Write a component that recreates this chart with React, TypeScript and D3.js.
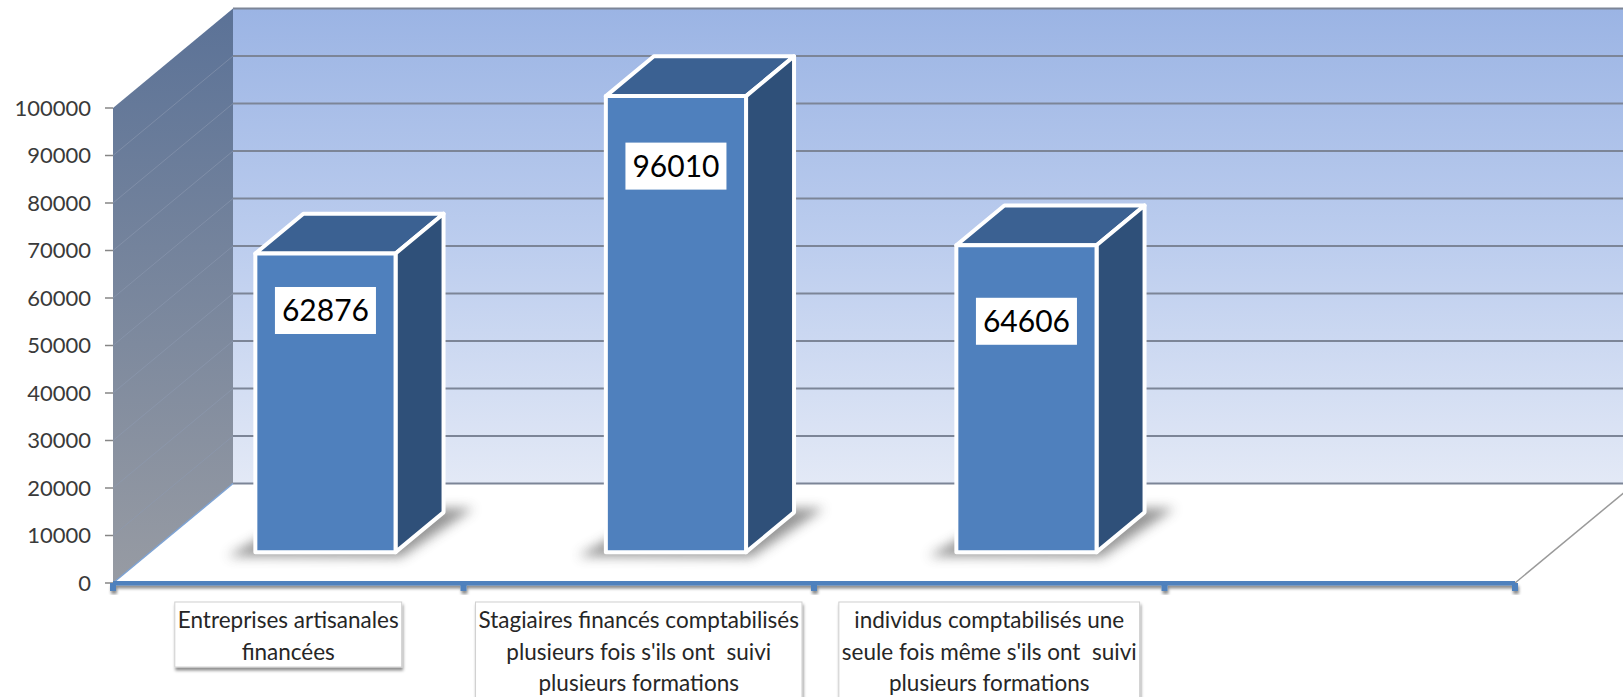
import React, { useEffect, useRef } from "react";
import * as d3 from "d3";

// ---------- data ----------
const categories = [
  "Entreprises artisanales financées",
  "Stagiaires financés comptabilisés plusieurs fois s'ils ont  suivi plusieurs formations",
  "individus comptabilisés une seule fois même s'ils ont  suivi plusieurs formations",
  "",
];
const categoryLines = [
  ["Entreprises artisanales", "financées"],
  ["Stagiaires financés comptabilisés", "plusieurs fois s'ils ont  suivi", "plusieurs formations"],
  ["individus comptabilisés une", "seule fois même s'ils ont  suivi", "plusieurs formations"],
  [],
];
const values = [62876, 96010, 64606];
const yTickValues = [0, 10000, 20000, 30000, 40000, 50000, 60000, 70000, 80000, 90000, 100000];
const yTickLabels = ["0", "10000", "20000", "30000", "40000", "50000", "60000", "70000", "80000", "90000", "100000"];

// ---------- layout ----------
const W = 1623;
const H = 697;
const X0 = 113;
const X1 = 1515;
const Y0 = 583;
const YTOP = 108;
const DX = 120;
const DY = 99.5;
const BAR_D0 = 0.31;
const BAR_D1 = 0.71;
const VALUE_LABEL_OFFSET = [57, 70, 76];
const FONT = "Lato, 'Open Sans', sans-serif";
const CAT_LINE_H = 31.5;

export default function App() {
  const ref = useRef<SVGSVGElement>(null);

  useEffect(() => {
    const svg = d3.select(ref.current);
    svg.selectAll("*").remove();

    const x = d3
      .scaleBand<string>()
      .domain(categories)
      .range([X0, X1])
      .paddingInner(0.6)
      .paddingOuter(0.3);
    const y = d3.scaleLinear().domain([0, 100000]).range([Y0, YTOP]);
    const proj = (px: number, py: number, d: number): [number, number] => [px + DX * d, py - DY * d];

    const defs = svg.append("defs");
    const gBack = defs
      .append("linearGradient")
      .attr("id", "backGrad")
      .attr("x1", 0)
      .attr("y1", 0)
      .attr("x2", 0)
      .attr("y2", 1);
    gBack.append("stop").attr("offset", 0).attr("stop-color", "#9bb4e4");
    gBack.append("stop").attr("offset", 0.5).attr("stop-color", "#bccdee");
    gBack.append("stop").attr("offset", 1).attr("stop-color", "#e3e9f6");
    const gSide = defs
      .append("linearGradient")
      .attr("id", "sideGrad")
      .attr("x1", 0)
      .attr("y1", 0)
      .attr("x2", 0)
      .attr("y2", 1);
    gSide.append("stop").attr("offset", 0).attr("stop-color", "#5b7297");
    gSide.append("stop").attr("offset", 1).attr("stop-color", "#979ba3");
    defs
      .append("filter")
      .attr("id", "blur")
      .attr("x", "-50%")
      .attr("y", "-50%")
      .attr("width", "200%")
      .attr("height", "200%")
      .append("feGaussianBlur")
      .attr("stdDeviation", 6);
    const ds = defs
      .append("filter")
      .attr("id", "dshadow")
      .attr("x", "-20%")
      .attr("y", "-20%")
      .attr("width", "140%")
      .attr("height", "160%");
    ds.append("feDropShadow")
      .attr("dx", 1)
      .attr("dy", 3)
      .attr("stdDeviation", 1.5)
      .attr("flood-color", "#000")
      .attr("flood-opacity", 0.45);

    const line = (pts: [number, number][]) => d3.line()(pts) as string;
    const poly = (pts: [number, number][]) => (d3.line()(pts) as string) + "Z";

    // back wall
    const bTop = proj(X0, y(100000), 1);
    const bBot = proj(X0, y(0), 1);
    svg
      .append("rect")
      .attr("x", bTop[0])
      .attr("y", bTop[1])
      .attr("width", W - bTop[0] + 10)
      .attr("height", bBot[1] - bTop[1])
      .attr("fill", "url(#backGrad)");

    // side wall
    svg
      .append("path")
      .attr("d", poly([[X0, y(100000)], bTop, bBot, [X0, y(0)]]))
      .attr("fill", "url(#sideGrad)");

    // side wall grid
    yTickValues.slice(1, -1).forEach((v) => {
      svg
        .append("path")
        .attr("d", line([[X0, y(v)], proj(X0, y(v), 1)]))
        .attr("stroke", "#8e9bb2")
        .attr("stroke-opacity", 0.55)
        .attr("stroke-width", 1);
    });

    // back wall grid
    yTickValues.forEach((v) => {
      const p = proj(X0, y(v), 1);
      svg
        .append("path")
        .attr("d", line([p, [W + 10, p[1]]]))
        .attr("stroke", "#7c8597")
        .attr("stroke-width", 2);
    });

    // floor edges
    svg
      .append("path")
      .attr("d", line([[X0, Y0], proj(X0, Y0, 1)]))
      .attr("stroke", "#7ea3d4")
      .attr("stroke-width", 1.5);
    svg
      .append("path")
      .attr("d", line([[X1, Y0], proj(X1, Y0, 1)]))
      .attr("stroke", "#9a9a9a")
      .attr("stroke-width", 1.5);

    // y ticks & labels
    yTickValues.forEach((v, i) => {
      svg
        .append("path")
        .attr("d", line([[X0 - 8, y(v)], [X0, y(v)]]))
        .attr("stroke", "#868686")
        .attr("stroke-width", 1.5);
      svg
        .append("text")
        .attr("x", X0 - 22)
        .attr("y", y(v))
        .attr("dy", "0.36em")
        .attr("text-anchor", "end")
        .attr("font-family", FONT)
        .attr("font-size", 22)
        .attr("fill", "#3a3a3a")
        .text(yTickLabels[i]);
    });

    // bars
    const bw = x.bandwidth();
    values.forEach((v, i) => {
      const xl = x(categories[i]) as number;
      const xr = xl + bw;
      const fbl = proj(xl, y(0), BAR_D0);
      const fbr = proj(xr, y(0), BAR_D0);
      const ftl = proj(xl, y(v), BAR_D0);
      const ftr = proj(xr, y(v), BAR_D0);
      const btl = proj(xl, y(v), BAR_D1);
      const btr = proj(xr, y(v), BAR_D1);
      const bbr = proj(xr, y(0), BAR_D1);
      const bbl = proj(xl, y(0), BAR_D1);

      // shadow
      svg
        .append("path")
        .attr(
          "d",
          poly([
            [fbl[0] - 28, fbl[1] + 4],
            [fbr[0] + 5, fbr[1] + 5],
            [bbr[0] + 30, bbr[1] - 4],
            [bbl[0] + 10, bbl[1] - 4],
          ])
        )
        .attr("fill", "#505050")
        .attr("opacity", 0.6)
        .attr("filter", "url(#blur)");

      const g = svg.append("g").attr("stroke", "#fff").attr("stroke-width", 4).attr("stroke-linejoin", "round");
      g.append("path").attr("d", poly([ftl, ftr, btr, btl])).attr("fill", "#3b6192");
      g.append("path").attr("d", poly([ftr, btr, bbr, fbr])).attr("fill", "#2f5079");
      g.append("path").attr("d", poly([ftl, ftr, fbr, fbl])).attr("fill", "#4f80bd");

      // value label
      const cx = (ftl[0] + ftr[0]) / 2;
      const cy = ftl[1] + VALUE_LABEL_OFFSET[i];
      const lg = svg.append("g");
      const rect = lg.append("rect").attr("fill", "#fff");
      const t = lg
        .append("text")
        .attr("x", cx)
        .attr("y", cy)
        .attr("dy", "0.36em")
        .attr("text-anchor", "middle")
        .attr("font-family", FONT)
        .attr("font-size", 30)
        .attr("fill", "#000")
        .text(String(v));
      const bb = (t.node() as SVGTextElement).getBBox();
      rect
        .attr("x", bb.x - 7)
        .attr("width", bb.width + 14)
        .attr("y", cy - 23.5)
        .attr("height", 47);
    });

    // category axis
    const axisG = svg.append("g").attr("filter", "url(#dshadow)");
    const boundaries = [X0, ...categories.map((c) => (x(c) as number) + bw + x.step() * 0.3)];
    boundaries.forEach((bx) => {
      axisG
        .append("rect")
        .attr("x", bx - 3)
        .attr("y", Y0)
        .attr("width", 6)
        .attr("height", 8)
        .attr("fill", "#4f81bd");
    });
    axisG
      .append("path")
      .attr("d", line([[X0, Y0], [X1, Y0]]))
      .attr("stroke", "#4f81bd")
      .attr("stroke-width", 5);

    // category labels
    categories.forEach((c, i) => {
      const lines = categoryLines[i];
      if (!lines.length) return;
      const cx = (x(c) as number) + bw / 2;
      const lg = svg.append("g");
      const rect = lg
        .append("rect")
        .attr("fill", "#fff")
        .attr("stroke", "#d0d0d0")
        .attr("stroke-width", 1)
        .attr("filter", "url(#dshadow)");
      const tg = lg.append("g");
      lines.forEach((ln, j) => {
        tg.append("text")
          .attr("x", cx)
          .attr("y", 628 + j * CAT_LINE_H)
          .attr("text-anchor", "middle")
          .attr("font-family", FONT)
          .attr("font-size", 22.5)
          .attr("fill", "#262626")
          .style("white-space", "pre")
          .text(ln);
      });
      const bb = (tg.node() as SVGGElement).getBBox();
      rect
        .attr("x", bb.x - 3)
        .attr("width", bb.width + 6)
        .attr("y", 602)
        .attr("height", lines.length * CAT_LINE_H + 2);
    });
  }, []);

  return (
    <svg
      ref={ref}
      width={W}
      height={H}
      style={{ position: "absolute", left: 0, top: 0, display: "block", background: "#fff" }}
    />
  );
}
